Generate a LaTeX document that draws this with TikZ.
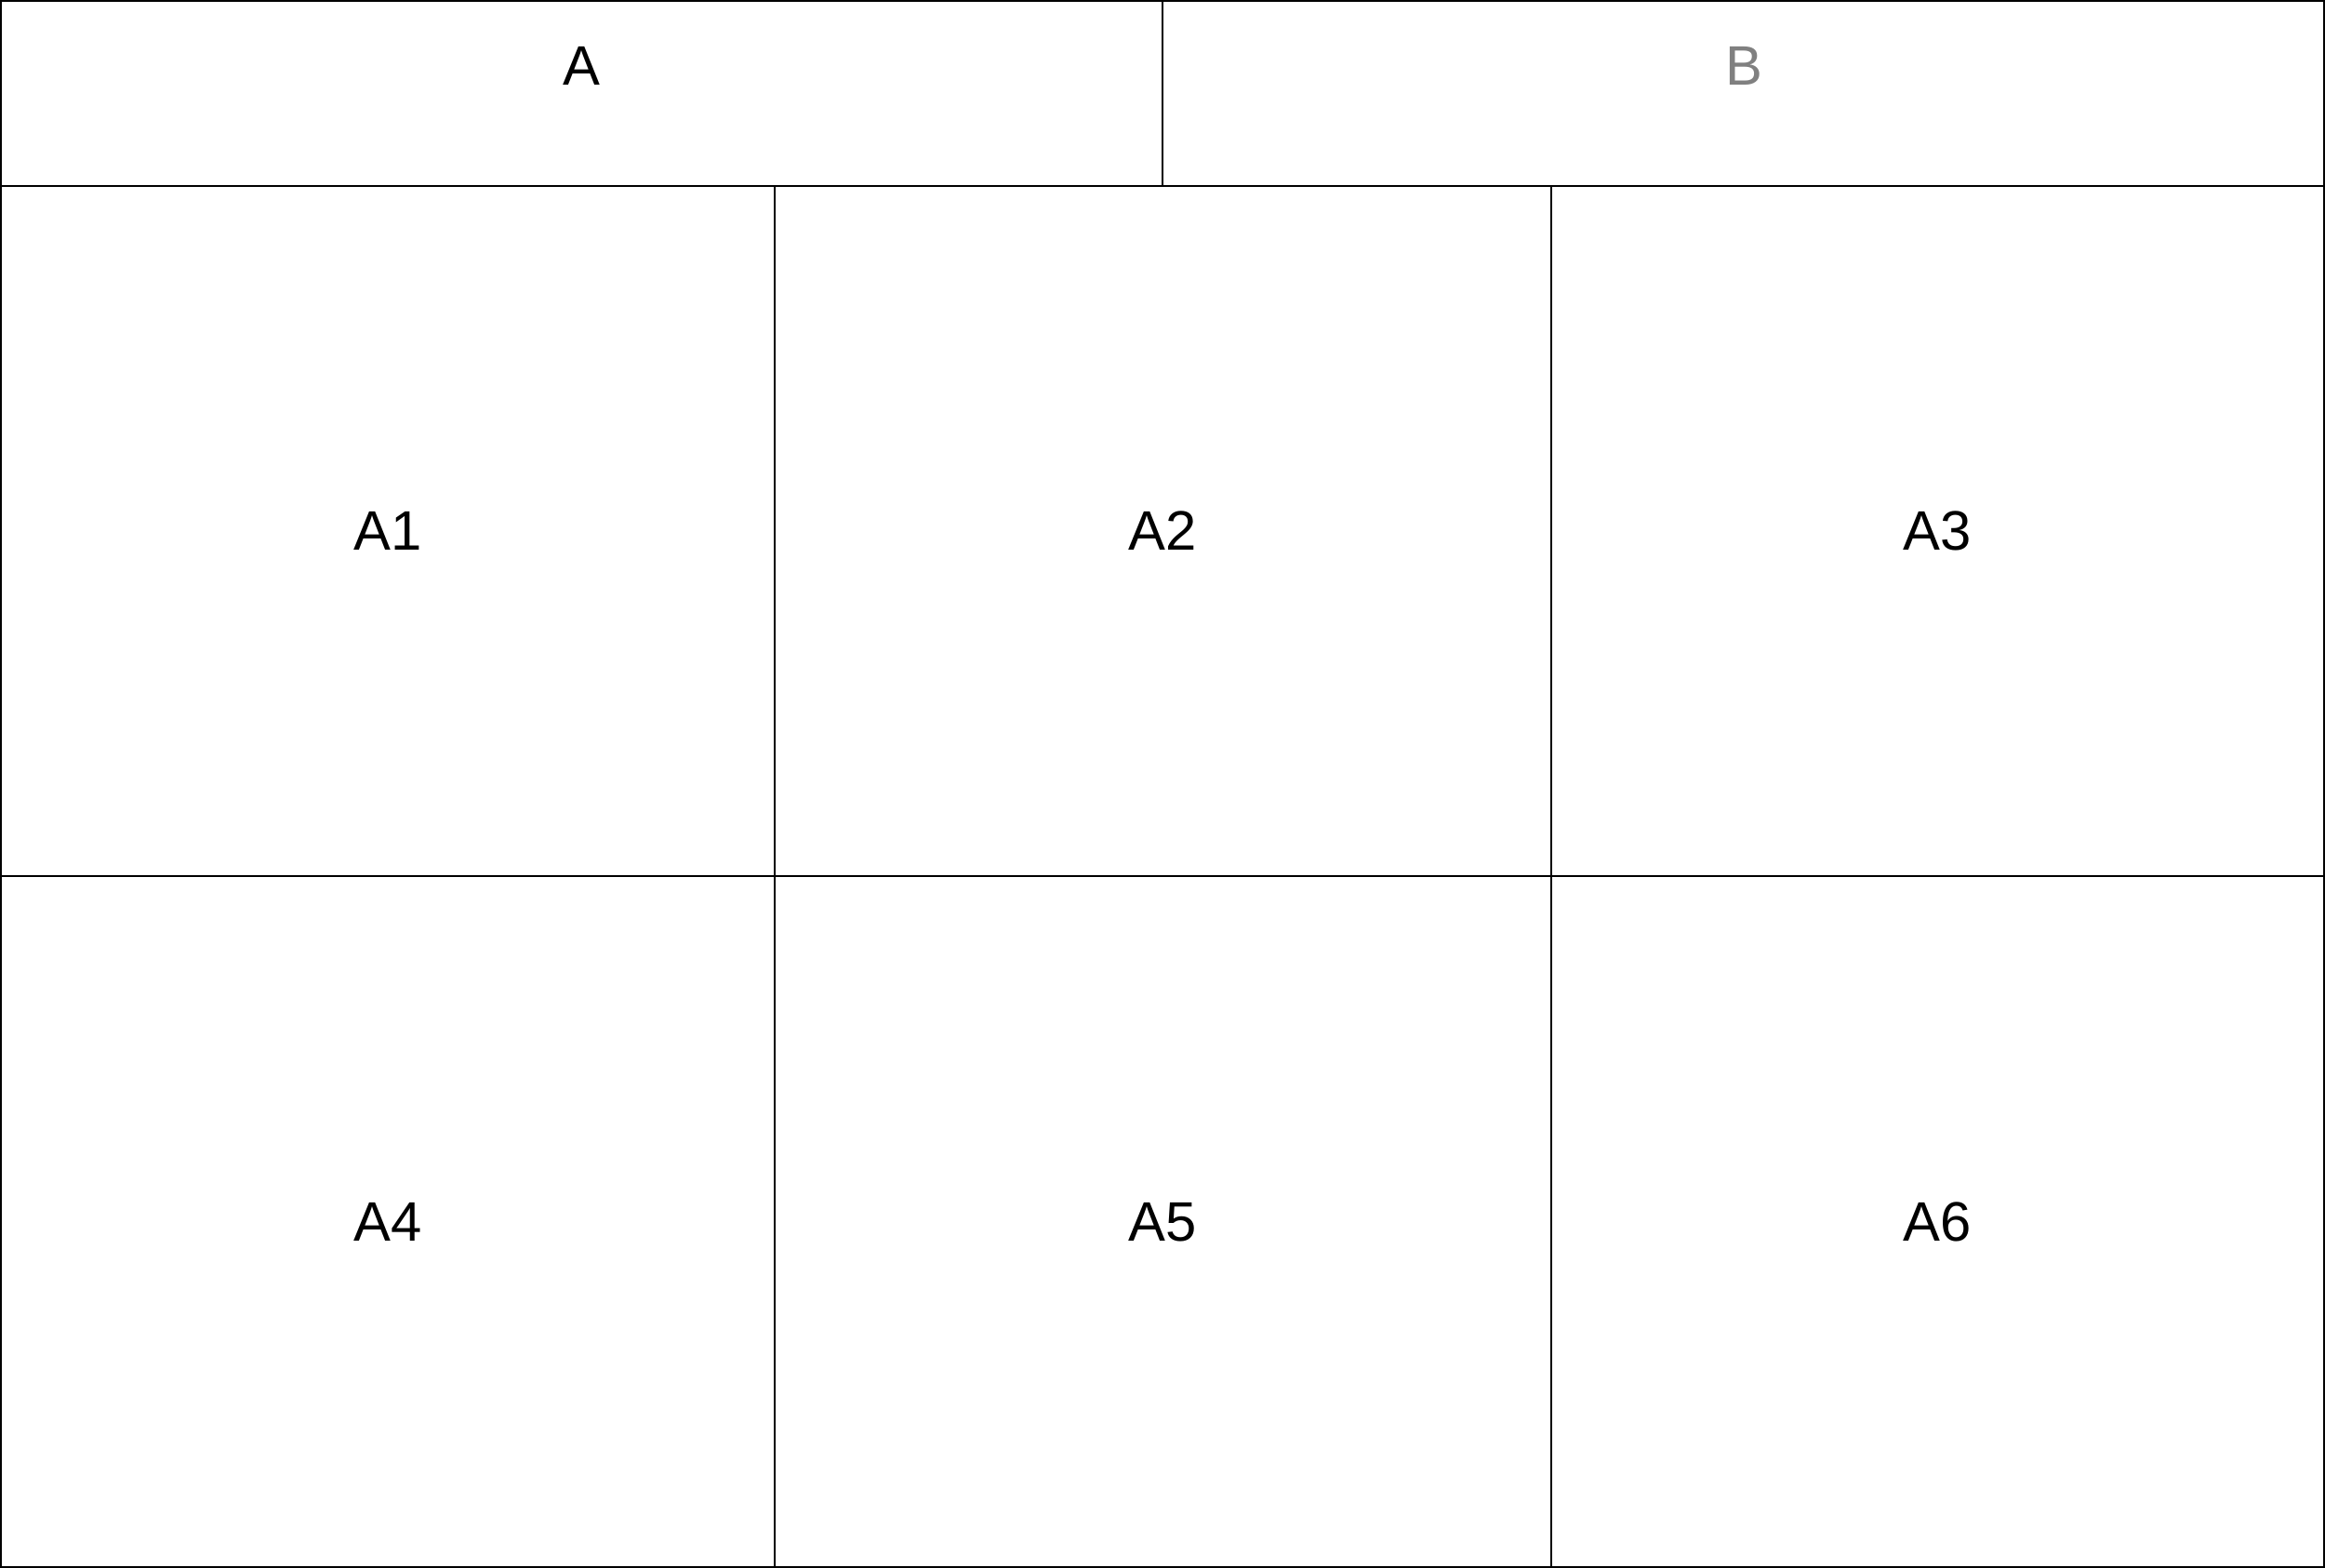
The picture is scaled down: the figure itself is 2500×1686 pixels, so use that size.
\documentclass[tikz,border=0pt]{standalone}
\usepackage{fontspec}
\setmainfont{Liberation Sans}
\begin{document}
\begin{tikzpicture}[x=0.01cm,y=-0.01cm,
  cell/.style={draw=black,line width=0.57pt},
  lbl/.style={font=\fontsize{17}{20}\selectfont,text=black},
  glbl/.style={font=\fontsize{17}{20}\selectfont,text=black!50}]
\useasboundingbox (0,0) rectangle (2500,1686);
\draw[cell] (1,1) rectangle (1250,200);
\draw[cell] (1250,1) rectangle (2499,200);
\draw[cell] (1,200) rectangle (833,942);
\draw[cell] (833,200) rectangle (1668,942);
\draw[cell] (1668,200) rectangle (2499,942);
\draw[cell] (1,942) rectangle (833,1685);
\draw[cell] (833,942) rectangle (1668,1685);
\draw[cell] (1668,942) rectangle (2499,1685);
\node[lbl] (a) at (625,71) {A};
\node[glbl] (b) at (1875,71) {B};
\node[lbl] (a1) at (417,571) {A1};
\node[lbl] (a2) at (1250,571) {A2};
\node[lbl] (a3) at (2083,571) {A3};
\node[lbl] (a4) at (417,1314) {A4};
\node[lbl] (a5) at (1250,1314) {A5};
\node[lbl] (a6) at (2083,1314) {A6};
\end{tikzpicture}
\end{document}
